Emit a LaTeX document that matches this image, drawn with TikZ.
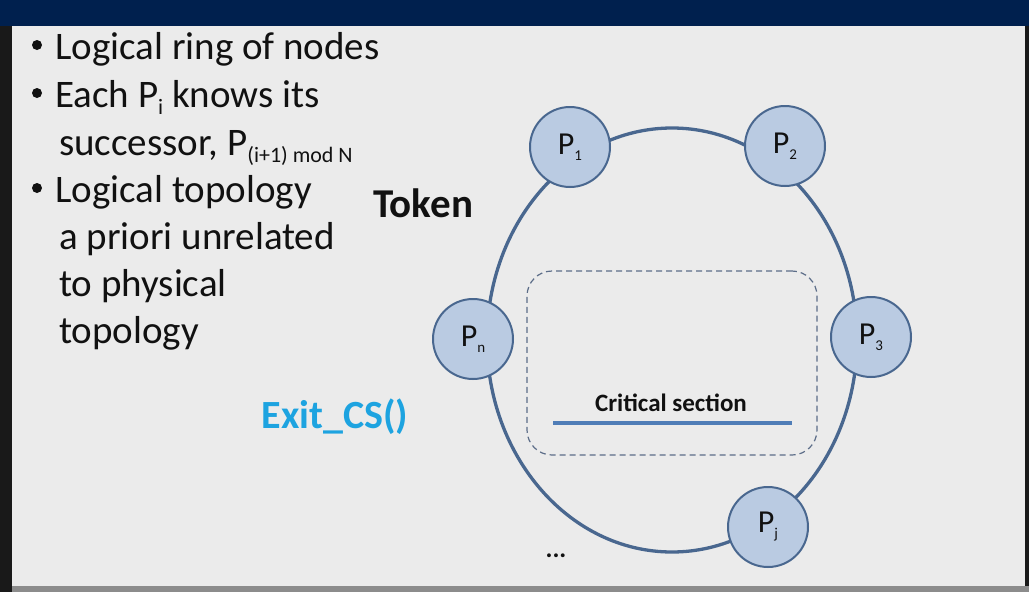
\documentclass[tikz,border=0pt]{standalone}
\usepackage{fontspec}
\setmainfont{Carlito}
\begin{document}
\definecolor{slidebg}{HTML}{EBEBEB}
\definecolor{topbar}{HTML}{00204E}
\definecolor{ringcol}{HTML}{49678F}
\definecolor{nodefill}{HTML}{BACBE2}
\definecolor{dashcol}{HTML}{5C6D88}
\definecolor{cscol}{HTML}{4F7DB7}
\definecolor{exitcol}{HTML}{1DA3E0}
\definecolor{txt}{HTML}{111111}
\newcommand{\lowsub}[2]{\raisebox{-#1}{\fontsize{15}{16}\selectfont #2}}
\begin{tikzpicture}[x=1pt,y=-1pt,
  proc/.style={circle,draw=ringcol,line width=2pt,fill=nodefill,minimum size=80pt,inner sep=0pt,
    font=\fontsize{32}{34}\selectfont,text=txt},
  dotmark/.style={circle,fill=txt,draw=none,inner sep=0pt,minimum size=10pt},
  line/.style={anchor=base west,font=\fontsize{39}{42}\selectfont,text=txt,inner sep=0pt}]
% slide frame
\useasboundingbox (0,0) rectangle (1029,592);
\fill[slidebg] (0,0) rectangle (1029,592);
\fill[topbar] (0,0) rectangle (1029,26);
\fill[black!90] (0,26) rectangle (12,592);
\fill[black!90] (1025,26) rectangle (1029,592);
\fill[black!45] (12,586) rectangle (1029,592);
% bullet list
\node[dotmark] (d1) at (37,45) {};
\node[line] (b1) at (55,59) {Logical ring of nodes};
\node[dotmark] (d2) at (37,93) {};
\node[line] (b2) at (55,107) {Each P{\fontsize{22}{24}\selectfont\raisebox{-7pt}{i}} knows its};
\node[line] (b2a) at (59,155) {successor, P{\fontsize{22}{24}\selectfont\raisebox{-7pt}{(i+1) mod N}}};
\node[dotmark] (d3) at (37,188) {};
\node[line] (b3) at (55,202) {Logical topology};
\node[line] (b3a) at (59,249) {a priori unrelated};
\node[line] (b3b) at (59,296) {to physical};
\node[line] (b3c) at (59,343) {topology};
% ring
\draw[ringcol,line width=3.3pt] (672,340) ellipse [x radius=185, y radius=212];
% critical section
\node[draw=dashcol,dash pattern=on 6pt off 4pt,line width=1.2pt,rounded corners=25pt,minimum width=290pt,minimum height=184pt,inner sep=0pt] (cs) at (672,363) {};
\node[font=\bfseries\fontsize{25}{27}\selectfont,text=txt,inner sep=0pt] (cstxt) at (671,403) {Critical section};
\coordinate (csl) at (553,423);
\coordinate (csr) at (792,423);
\draw[cscol,line width=3.3pt] (csl) -- (csr);
% processes
\node[proc] (p1) at (570,147) {P\lowsub{6pt}{1}};
\node[proc] (p2) at (785,146) {P\lowsub{6pt}{2}};
\node[proc] (p3) at (871,337) {P\lowsub{6pt}{3}};
\node[proc] (pj) at (768,527) {P\lowsub{6pt}{j}};
\node[proc] (pn) at (473,339) {P\lowsub{6pt}{n}};
% labels
\node[font=\bfseries\fontsize{41}{43}\selectfont,text=txt,inner sep=0pt] (token) at (423,203) {Token};
\node[font=\bfseries\fontsize{40}{42}\selectfont,text=exitcol,inner sep=0pt] (exit) at (335,417) {Exit\_CS()};
\node[font=\bfseries\fontsize{26}{28}\selectfont,text=txt,inner sep=0pt] (dots) at (556,556) {...};
\end{tikzpicture}
\end{document}
